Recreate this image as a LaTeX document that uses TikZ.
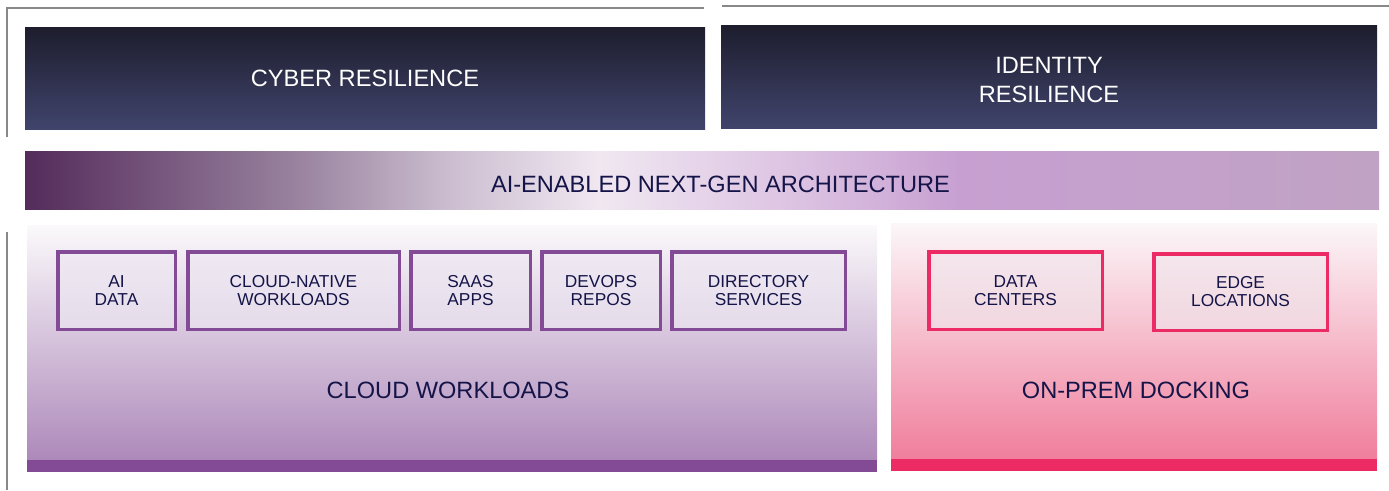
\documentclass[tikz,border=0pt]{standalone}
\usepackage{fontspec}
\setmainfont{Liberation Sans}
% palette
\definecolor{navy}{RGB}{20,20,72}
\definecolor{darktop}{RGB}{29,29,45}
\definecolor{darkbot}{RGB}{64,68,108}
\definecolor{framegray}{RGB}{136,136,136}
\definecolor{cloudtop}{RGB}{251,249,251}
\definecolor{cloudmid}{RGB}{222,206,228}
\definecolor{cloudbot}{RGB}{173,137,186}
\definecolor{premtop}{RGB}{251,247,249}
\definecolor{premmid}{RGB}{240,210,222}
\definecolor{prembot}{RGB}{240,126,156}
\definecolor{cloudline}{RGB}{131,74,150}
\definecolor{premline}{RGB}{236,42,100}
\definecolor{barA}{RGB}{84,43,91}
\definecolor{barB}{RGB}{154,132,160}
\definecolor{barC}{RGB}{204,190,208}
\definecolor{barD}{RGB}{240,231,241}
\definecolor{barE}{RGB}{220,194,226}
\definecolor{barF}{RGB}{199,160,209}
\definecolor{barG}{RGB}{192,162,196}
% left-to-right band: dark plum, fading to near white, then lilac
\pgfdeclarehorizontalshading{aibar}{100bp}{%
  color(0bp)=(barA); color(25bp)=(barA); color(35.2bp)=(barB);
  color(40.7bp)=(barC); color(46.2bp)=(barD); color(53.6bp)=(barE);
  color(59.5bp)=(barF); color(75bp)=(barG); color(100bp)=(barG)}
\tikzset{
  darkbox/.style={top color=darktop, bottom color=darkbot, draw=none,
    inner sep=0pt},
  whitetext/.style={text=white, inner sep=0pt, align=center,
    font=\fontsize{23.6}{29}\selectfont},
  bigtext/.style={text=navy, inner sep=0pt, align=center,
    font=\fontsize{23.6}{29}\selectfont},
  smalltext/.style={text=navy, align=center,
    font=\fontsize{17.3}{18}\selectfont},
  cloudbox/.style={draw=cloudline, line width=3.5pt, fill={rgb,255:red,238;green,232;blue,242},
    fill opacity=0.6, text opacity=1, smalltext},
  prembox/.style={draw=premline, line width=3.5pt, fill={rgb,255:red,240;green,230;blue,236},
    fill opacity=0.6, text opacity=1, smalltext},
  bracket/.style={draw=framegray, line width=2.2pt},
}
\begin{document}
\begin{tikzpicture}[x=1pt,y=-1pt]
\useasboundingbox (0,0) rectangle (1389,490);

% frame brackets
\draw[bracket] (7,137) -- (7,8) -- (704,8);
\draw[bracket] (722,6) -- (1389,6);
\draw[bracket] (7,232) -- (7,490);

% resilience headers
\node[darkbox, minimum width=680, minimum height=102] (cyber) at (365,78) {};
\node[whitetext] (cybertext) at (365,78) {CYBER RESILIENCE};
\node[darkbox, minimum width=656, minimum height=103] (identity) at (1049,76.5) {};
\node[whitetext] (identitytext) at (1049,79.5) {IDENTITY\\RESILIENCE};

% architecture band
\node[shading=aibar, draw=none, minimum width=1354, minimum height=58,
  inner sep=0pt] (aibar) at (702,180) {};
\node[bigtext] (aitext) at (720.5,184) {AI-ENABLED NEXT-GEN ARCHITECTURE};

% cloud workloads panel
\node[top color=cloudtop, middle color=cloudmid, bottom color=cloudbot, draw=none,
  minimum width=850, minimum height=235, inner sep=0pt] (cloud) at (452,342.5) {};
\node[fill=cloudline, draw=none, minimum width=850, minimum height=12,
  inner sep=0pt] (cloudstrip) at (452,466) {};
\node[bigtext] (cloudtext) at (448,390) {CLOUD WORKLOADS};

% on-prem docking panel
\node[top color=premtop, middle color=premmid, bottom color=prembot, draw=none,
  minimum width=486, minimum height=236, inner sep=0pt] (prem) at (1134,341) {};
\node[fill=premline, draw=none, minimum width=486, minimum height=12,
  inner sep=0pt] (premstrip) at (1134,465) {};
\node[bigtext] (premtext) at (1136,390) {ON-PREM DOCKING};

% cloud workload items
\node[cloudbox, minimum width=117.5, minimum height=77.5] (aidata) at (116.5,290.5) {AI\\DATA};
\node[cloudbox, minimum width=211.5, minimum height=77.5] (cloudnative) at (293.5,290.5) {CLOUD-NATIVE\\WORKLOADS};
\node[cloudbox, minimum width=119.5, minimum height=77.5] (saas) at (470.5,290.5) {SAAS\\APPS};
\node[cloudbox, minimum width=118.5, minimum height=77.5] (devops) at (601,290.5) {DEVOPS\\REPOS};
\node[cloudbox, minimum width=173.5, minimum height=77.5] (directory) at (758.5,290.5) {DIRECTORY\\SERVICES};

% on-prem items
\node[prembox, minimum width=173.5, minimum height=77.5] (datacenters) at (1015.5,290.5) {DATA\\CENTERS};
\node[prembox, minimum width=173.5, minimum height=76.5] (edge) at (1240.5,292) {EDGE\\LOCATIONS};
\end{tikzpicture}
\end{document}
